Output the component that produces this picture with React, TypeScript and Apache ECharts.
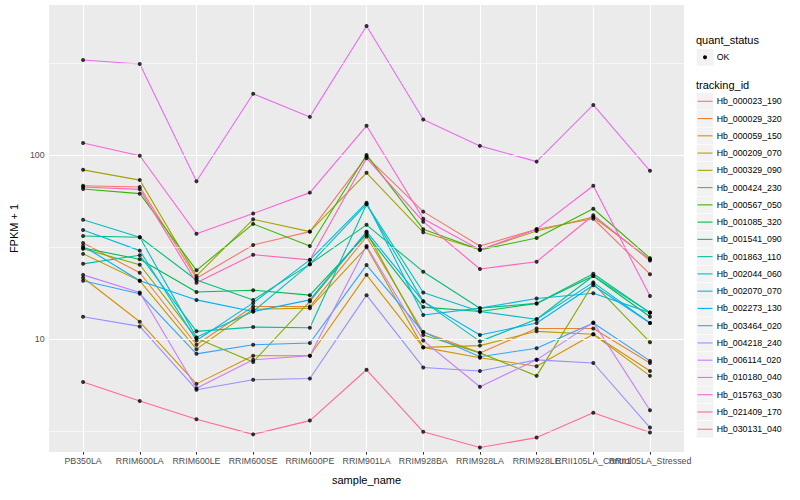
import React, { useEffect, useRef } from "react";
import * as echarts from "echarts";

const sampleNames = [
  "PB350LA", "RRIM600LA", "RRIM600LE", "RRIM600SE", "RRIM600PE", "RRIM901LA",
  "RRIM928BA", "RRIM928LA", "RRIM928LE", "RRII105LA_Control", "RRII105LA_Stressed",
];
const trackingIds = [
  "Hb_000023_190", "Hb_000029_320", "Hb_000059_150", "Hb_000209_070", "Hb_000329_090",
  "Hb_000424_230", "Hb_000567_050", "Hb_001085_320", "Hb_001541_090", "Hb_001863_110",
  "Hb_002044_060", "Hb_002070_070", "Hb_002273_130", "Hb_003464_020", "Hb_004218_240",
  "Hb_006114_020", "Hb_010180_040", "Hb_015763_030", "Hb_021409_170", "Hb_030131_040",
];
const seriesColors = [
  "#F8766D", "#EA8331", "#D89000", "#C09B00", "#A3A500", "#7CAE00", "#39B600", "#00BB4E",
  "#00BF7D", "#00C1A3", "#00BFC4", "#00BAE0", "#00B0F6", "#35A2FF", "#9590FF", "#C77CFF",
  "#E76BF3", "#FA62DB", "#FF62BC", "#FF6C91",
];
const yTicks = [10, 100];
const yMinorBreaks = [3.162, 31.62, 316.2];

// FPKM + 1 per sample (order of sampleNames)
const Hb_000023_190 = [68, 67, 21.4, 32.4, 38.3, 98, 49.2, 32, 39.5, 45, 22.5];
const Hb_000029_320 = [33.2, 22.9, 9.3, 15, 15, 36, 10.9, 8.4, 11.4, 11.4, 7.4];
const Hb_000059_150 = [21.5, 12.4, 5.7, 8.1, 8.1, 22.3, 9.0, 7.9, 7.1, 10.6, 6.7];
const Hb_000209_070 = [29.0, 20.7, 8.8, 14.5, 14.7, 31.5, 9.0, 9.2, 11.0, 10.6, 6.3];
const Hb_000329_090 = [83, 73, 22, 44.7, 38.3, 80, 38, 30.5, 38.6, 46, 27];
const Hb_000424_230 = [30.9, 25.3, 10.1, 7.5, 16, 38, 10.5, 8.4, 6.3, 20, 9.6];
const Hb_000567_050 = [65.3, 61.6, 23.6, 42.2, 32, 100, 39.5, 30.5, 35.4, 51, 27.5];
const Hb_001085_320 = [31.2, 27.1, 18.0, 18.4, 17.3, 37, 14.9, 14.1, 15.6, 22.0, 13.2];
const Hb_001541_090 = [36.3, 35.7, 20.9, 16.3, 25.5, 41.7, 23.2, 14.7, 15.6, 22.6, 13.9];
const Hb_001863_110 = [25.6, 28.5, 11.0, 11.6, 11.5, 54, 16.0, 9.7, 12.8, 22.0, 13.9];
const Hb_002044_060 = [44.4, 35.7, 10.2, 14.1, 25.5, 54, 17.9, 14.1, 12.8, 20.3, 12.2];
const Hb_002070_070 = [39.1, 30.2, 9.8, 15.7, 26.9, 55, 13.5, 14.7, 16.6, 17.7, 13.9];
const Hb_002273_130 = [32.0, 20.7, 16.3, 14.1, 16.3, 38.3, 16.0, 10.5, 12.2, 19.6, 12.2];
const Hb_003464_020 = [20.7, 17.6, 8.3, 9.3, 9.5, 25.2, 10.9, 8.0, 8.9, 12.2, 7.6];
const Hb_004218_240 = [13.2, 11.7, 5.3, 6.0, 6.1, 17.3, 7.0, 6.7, 7.7, 7.4, 3.3];
const Hb_006114_020 = [22.3, 17.9, 5.4, 7.7, 8.1, 32, 9.8, 5.5, 7.7, 12.3, 4.1];
const Hb_010180_040 = [328, 312, 72, 215, 161, 502, 156, 112, 92, 187, 82];
const Hb_015763_030 = [116, 99, 37.3, 48, 62.4, 144, 45, 30.5, 39.5, 68, 17.1];
const Hb_021409_170 = [67, 65, 20.2, 28.7, 26.9, 96, 43.4, 24, 26.3, 47, 26.7];
const Hb_030131_040 = [5.84, 4.6, 3.66, 3.03, 3.6, 6.8, 3.13, 2.57, 2.91, 3.97, 3.1];

const seriesValues = [
  Hb_000023_190, Hb_000029_320, Hb_000059_150, Hb_000209_070, Hb_000329_090,
  Hb_000424_230, Hb_000567_050, Hb_001085_320, Hb_001541_090, Hb_001863_110,
  Hb_002044_060, Hb_002070_070, Hb_002273_130, Hb_003464_020, Hb_004218_240,
  Hb_006114_020, Hb_010180_040, Hb_015763_030, Hb_021409_170, Hb_030131_040,
];

const FONT = '"Liberation Sans", Arial, Helvetica, sans-serif';

export default function App() {
  const ref = useRef<HTMLDivElement>(null);

  useEffect(() => {
    if (!ref.current) return;
    const chart = echarts.init(ref.current, null, { renderer: "svg" });
    const catIdx = sampleNames.map((_, i) => i);
    // labels split over three axes so that overlapping neighbours are all kept
    const labelGroups = [catIdx.slice(0, 9), [9], [10]];

    const gridSeries = {
      type: "line",
      data: [[0, 10]],
      showSymbol: false,
      symbol: "none",
      lineStyle: { opacity: 0 },
      silent: true,
      z: 1,
      markLine: {
        silent: true,
        symbol: "none",
        animation: false,
        label: { show: false },
        emphasis: { disabled: true },
        data: [
          ...yMinorBreaks.map((v) => ({ yAxis: v, lineStyle: { color: "#FFFFFF", width: 0.55, type: "solid" } })),
          ...yTicks.map((v) => ({ yAxis: v, lineStyle: { color: "#FFFFFF", width: 1.1, type: "solid" } })),
          ...catIdx.map((i) => ({ xAxis: i, lineStyle: { color: "#FFFFFF", width: 1.1, type: "solid" } })),
        ],
      },
    };

    const lineSeries = trackingIds.map((id, k) => ({
      name: id,
      type: "line",
      data: seriesValues[k].map((v, i) => [i, v]),
      showSymbol: false,
      symbol: "none",
      lineStyle: { color: seriesColors[k], width: 1.1 },
      itemStyle: { color: seriesColors[k] },
      z: 3,
    }));

    const pointSeries = {
      name: "OK",
      type: "scatter",
      data: seriesValues.flatMap((arr) => arr.map((v, i) => [i, v])),
      symbol: "circle",
      symbolSize: 4,
      itemStyle: { color: "#000000" },
      z: 5,
    };

    const legendX = 696.7;
    const entryY0 = 101.3;
    const entryStep = 17.26;
    const graphics: any[] = [
      { type: "text", x: 696, y: 40, style: { text: "quant_status", fontFamily: FONT, fontSize: 11, fill: "#000", verticalAlign: "middle", align: "left" } },
      { type: "rect", shape: { x: legendX, y: 49, width: 16.6, height: 16.6 }, style: { fill: "#F2F2F2" } },
      { type: "circle", shape: { cx: legendX + 8.3, cy: 57.3, r: 2 }, style: { fill: "#000" } },
      { type: "text", x: 716.7, y: 57.3, style: { text: "OK", fontFamily: FONT, fontSize: 8.8, fill: "#000", verticalAlign: "middle", align: "left" } },
      { type: "text", x: 696, y: 85, style: { text: "tracking_id", fontFamily: FONT, fontSize: 11, fill: "#000", verticalAlign: "middle", align: "left" } },
    ];
    trackingIds.forEach((id, k) => {
      const cy = entryY0 + k * entryStep;
      graphics.push(
        { type: "rect", shape: { x: legendX, y: cy - 8.3, width: 16.6, height: 16.6 }, style: { fill: "#F2F2F2" } },
        { type: "line", shape: { x1: legendX + 0.8, y1: cy, x2: legendX + 15.8, y2: cy }, style: { stroke: seriesColors[k], lineWidth: 1.1 } },
        { type: "text", x: 716.7, y: cy, style: { text: id, fontFamily: FONT, fontSize: 8.8, fill: "#000", verticalAlign: "middle", align: "left" } },
      );
    });

    const xAxes = labelGroups.map((vals, gi) => ({
      type: "value",
      min: -0.6,
      max: 10.6,
      position: "bottom",
      offset: 0,
      name: gi === 0 ? "sample_name" : "",
      nameLocation: "middle",
      nameGap: 22,
      nameTextStyle: { fontFamily: FONT, fontSize: 11, color: "#000" },
      axisLine: { show: false },
      axisTick: { show: true, customValues: vals, length: 2.7, lineStyle: { color: "#333333", width: 1 } },
      axisLabel: {
        customValues: vals,
        formatter: (v: number) => sampleNames[Math.round(v)] ?? "",
        fontFamily: FONT,
        fontSize: 8.8,
        color: "#4D4D4D",
        margin: 4.8,
        hideOverlap: false,
      },
      splitLine: { show: false },
    }));

    const option: any = {
      animation: false,
      backgroundColor: "#FFFFFF",
      textStyle: { fontFamily: FONT },
      grid: { left: 40, right: 116, top: 5, bottom: 48, show: true, backgroundColor: "#EBEBEB", borderWidth: 0 },
      xAxis: xAxes,
      yAxis: {
        type: "log",
        logBase: 10,
        min: 2.43,
        max: 653,
        name: "FPKM + 1",
        nameLocation: "middle",
        nameRotate: 90,
        nameGap: 24,
        nameTextStyle: { fontFamily: FONT, fontSize: 11, color: "#000" },
        axisLine: { show: false },
        axisTick: { show: true, customValues: yTicks, length: 2.7, lineStyle: { color: "#333333", width: 1 } },
        axisLabel: {
          customValues: yTicks,
          formatter: (v: number) => String(Math.round(v)),
          fontFamily: FONT,
          fontSize: 8.8,
          color: "#4D4D4D",
          margin: 4.5,
        },
        splitLine: { show: false },
        minorSplitLine: { show: false },
      },
      series: [gridSeries, ...lineSeries, pointSeries],
      graphic: graphics,
    };

    chart.setOption(option);
    return () => chart.dispose();
  }, []);

  return <div ref={ref} style={{ width: 800, height: 500, position: "absolute", left: 0, top: 0 }} />;
}
